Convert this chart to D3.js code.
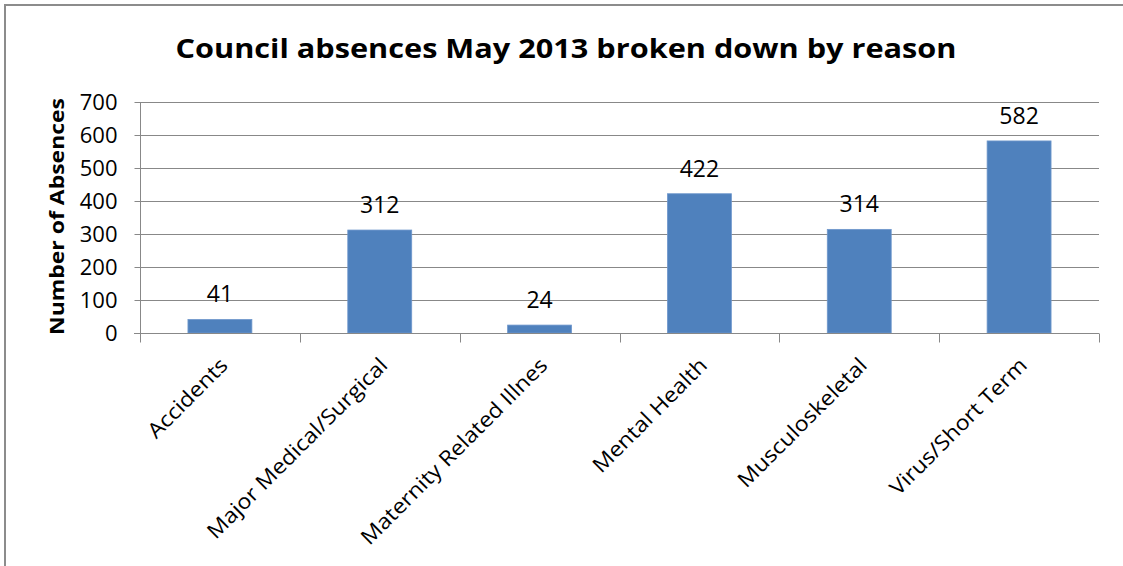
<!DOCTYPE html>
<html>
<head>
<meta charset="utf-8">
<script src="https://cdn.jsdelivr.net/npm/d3@7"></script>
<style>
  body { margin: 0; background: #fff; }
  text { font-family: "Open Sans", "Noto Sans", sans-serif; fill: #000; }
</style>
</head>
<body>
<div id="chart"></div>
<script>
// chart data
var categories = ["Accidents", "Major Medical/Surgical", "Maternity Related Illnes",
                  "Mental Health", "Musculoskeletal", "Virus/Short Term"];
var absences = [41, 312, 24, 422, 314, 582];
var yTicks = [0, 100, 200, 300, 400, 500, 600, 700];

const width = 1123, height = 566;
const margin = {left: 140, right: 24, top: 102, bottom: 233};

var svg = d3.select("#chart").append("svg")
    .attr("width", width)
    .attr("height", height);

// outer frame (only top and left edges show)
svg.append("path")
    .attr("d", "M5," + height + "V5H" + width)
    .attr("fill", "none")
    .attr("stroke", "#8c8c8c")
    .attr("stroke-width", 2);

var x = d3.scaleBand()
    .domain(categories)
    .range([margin.left, width - margin.right])
    .paddingInner(0.6)
    .paddingOuter(0.3);

var xBand = d3.scaleBand()
    .domain(categories)
    .range([margin.left, width - margin.right]);

var y = d3.scaleLinear()
    .domain([0, 700])
    .range([height - margin.bottom, margin.top]);

// gridlines
svg.append("g")
    .selectAll("line")
    .data(yTicks.filter(d => d > 0))
    .enter().append("line")
    .attr("x1", margin.left).attr("x2", width - margin.right)
    .attr("y1", d => Math.round(y(d)) + 0.5)
    .attr("y2", d => Math.round(y(d)) + 0.5)
    .attr("stroke", "#888")
    .attr("stroke-width", 1);

// bars
svg.append("g")
    .selectAll("rect")
    .data(absences)
    .enter().append("rect")
    .attr("x", (d, i) => x(categories[i]))
    .attr("width", x.bandwidth())
    .attr("y", d => y(d))
    .attr("height", d => y(0) - y(d))
    .attr("fill", "#4f81bd")
    .attr("stroke", "#6f97cc")
    .attr("stroke-width", 0.8);

// value labels
svg.append("g")
    .selectAll("text")
    .data(absences)
    .enter().append("text")
    .attr("x", (d, i) => x(categories[i]) + x.bandwidth() / 2)
    .attr("y", d => y(d) - 17)
    .attr("text-anchor", "middle")
    .style("font-size", "23px")
    .text(d => d);

// y axis
var yAxis = svg.append("g")
    .attr("transform", "translate(" + (margin.left + 0.5) + ",0)")
    .call(d3.axisLeft(y).tickValues(yTicks).tickSize(6).tickPadding(17));
yAxis.select(".domain").attr("stroke", "#888").attr("d", "M0," + margin.top + "V" + (height - margin.bottom));
yAxis.selectAll(".tick line").attr("stroke", "#888");
yAxis.selectAll(".tick text").style("font-size", "22px").attr("font-family", null);

// x axis
var xAxis = svg.append("g")
    .attr("transform", "translate(0," + (Math.round(y(0)) + 0.5) + ")");
xAxis.append("line")
    .attr("x1", margin.left - 6).attr("x2", width - margin.right)
    .attr("stroke", "#888");
var bounds = categories.map(c => xBand(c)).concat([width - margin.right]);
xAxis.selectAll(".xtick")
    .data(bounds)
    .enter().append("line")
    .attr("x1", d => Math.round(d) + 0.5).attr("x2", d => Math.round(d) + 0.5)
    .attr("y1", 0).attr("y2", 9)
    .attr("stroke", "#888");
xAxis.selectAll(".xlabel")
    .data(categories)
    .enter().append("text")
    .attr("transform", d => "translate(" + (xBand(d) + xBand.bandwidth() / 2 + 4) + ",28) rotate(-45) scale(1.1,1)")
    .attr("text-anchor", "end")
    .attr("dy", "0.35em")
    .style("font-size", "21px")
    .text(d => d);

// axis title
svg.append("text")
    .attr("transform", "translate(64,216.5) rotate(-90)")
    .attr("text-anchor", "middle")
    .attr("textLength", 237)
    .attr("lengthAdjust", "spacingAndGlyphs")
    .style("font-size", "20px")
    .style("font-weight", "bold")
    .text("Number of Absences");

// chart title
svg.append("text")
    .attr("x", 566)
    .attr("y", 58)
    .attr("text-anchor", "middle")
    .attr("textLength", 781)
    .attr("lengthAdjust", "spacingAndGlyphs")
    .style("font-size", "27px")
    .style("font-weight", "bold")
    .text("Council absences May 2013 broken down by reason");
</script>
</body>
</html>
